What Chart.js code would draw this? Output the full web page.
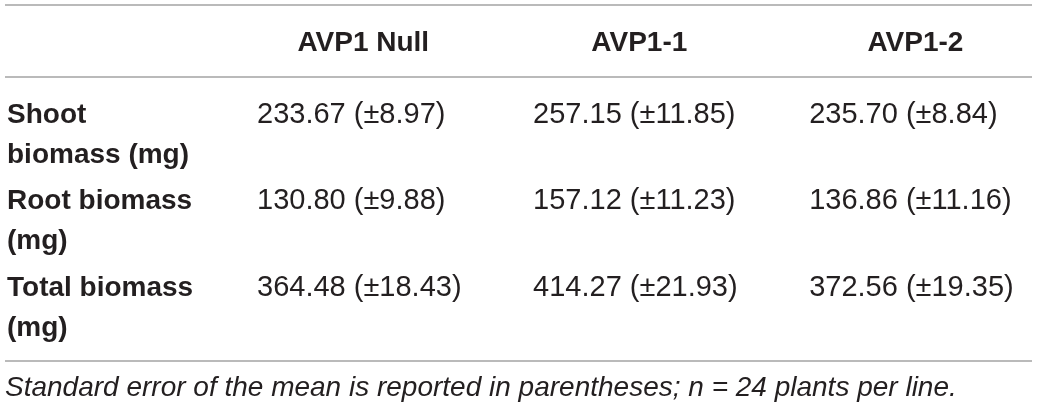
<!DOCTYPE html>
<html>
<head>
<meta charset="utf-8">
<script src="https://cdn.jsdelivr.net/npm/chart.js@4.4.1/dist/chart.umd.min.js"></script>
<style>
  html, body { margin: 0; padding: 0; background: #ffffff; }
  #wrap { width: 1039px; height: 409px; position: relative; }
</style>
</head>
<body>
<div id="wrap"><canvas id="biomassTable"></canvas></div>
<script>
// table data
const columns = ["AVP1 Null", "AVP1-1", "AVP1-2"];
const rowLabels = [
  ["Shoot", "biomass (mg)"],
  ["Root biomass", "(mg)"],
  ["Total biomass", "(mg)"]
];
const shootMean = [233.67, 257.15, 235.70];
const shootSE = [8.97, 11.85, 8.84];
const rootMean = [130.80, 157.12, 136.86];
const rootSE = [9.88, 11.23, 11.16];
const totalMean = [364.48, 414.27, 372.56];
const totalSE = [18.43, 21.93, 19.35];
const footnote = "Standard error of the mean is reported in parentheses; n = 24 plants per line.";

const means = [shootMean, rootMean, totalMean];
const errors = [shootSE, rootSE, totalSE];

const textColor = "#231f20";
const ruleColor = "#a3a3a3";
const regularFont = "300 29px 'Helvetica Neue', 'Liberation Sans', Arial, sans-serif";
const boldFont = "bold 28px 'Helvetica Neue', 'Liberation Sans', Arial, sans-serif";
const italicFont = "italic 300 28px 'Helvetica Neue', 'Liberation Sans', Arial, sans-serif";

function cellText(mean, se) {
  return mean.toFixed(2) + " (\u00b1" + se.toFixed(2) + ")";
}

// one point per cell, placed by the scales
const cells = [];
means.forEach((row, r) => {
  row.forEach((value, c) => {
    cells.push({ x: c, y: r, text: cellText(value, errors[r][c]) });
  });
});

const tablePlugin = {
  id: "tableText",
  afterDatasetsDraw(chart) {
    const ctx = chart.ctx;
    const area = chart.chartArea;
    const yScale = chart.scales.y;
    const meta = chart.getDatasetMeta(0);
    const ruleLeft = 5;
    const ruleRight = chart.width - 7;
    const ruleTop = 5;
    const lineGap = 40;

    ctx.save();

    // horizontal rules
    ctx.strokeStyle = ruleColor;
    ctx.lineWidth = 1.5;
    [ruleTop, area.top, area.bottom].forEach((yy) => {
      ctx.beginPath();
      ctx.moveTo(ruleLeft, yy);
      ctx.lineTo(ruleRight, yy);
      ctx.stroke();
    });

    ctx.fillStyle = textColor;
    ctx.textBaseline = "alphabetic";

    // cells
    ctx.font = regularFont;
    ctx.textAlign = "left";
    const colWidth = [0, 0, 0];
    meta.data.forEach((el, i) => {
      const cell = cells[i];
      ctx.fillText(cell.text, el.x, el.y);
      colWidth[cell.x] = Math.max(colWidth[cell.x], ctx.measureText(cell.text).width);
    });

    // column headers, centred over each column
    ctx.font = boldFont;
    ctx.textAlign = "center";
    const headerBase = (ruleTop + area.top) / 2 + 10;
    columns.forEach((name, c) => {
      const left = chart.scales.x.getPixelForValue(c);
      ctx.fillText(name, left + colWidth[c] / 2 + 4, headerBase);
    });

    // row labels
    ctx.textAlign = "left";
    rowLabels.forEach((lines, r) => {
      const base = yScale.getPixelForValue(r);
      lines.forEach((line, k) => {
        ctx.fillText(line, ruleLeft + 2, base + k * lineGap);
      });
    });

    // footnote
    ctx.font = italicFont;
    ctx.fillText(footnote, ruleLeft, area.bottom + 35);

    ctx.restore();
  }
};

new Chart(document.getElementById("biomassTable"), {
  type: "scatter",
  data: {
    datasets: [
      {
        label: "Biomass",
        data: cells,
        pointRadius: 0,
        pointHoverRadius: 0
      }
    ]
  },
  options: {
    responsive: true,
    maintainAspectRatio: false,
    animation: false,
    events: [],
    layout: {
      padding: { left: 257, right: 9, top: 77, bottom: 48 }
    },
    plugins: {
      legend: { display: false },
      tooltip: { enabled: false }
    },
    scales: {
      x: {
        type: "linear",
        min: 0,
        max: 2.8,
        display: false
      },
      y: {
        type: "linear",
        reverse: true,
        min: -0.533,
        max: 2.758,
        display: false
      }
    }
  },
  plugins: [tablePlugin]
});
</script>
</body>
</html>
